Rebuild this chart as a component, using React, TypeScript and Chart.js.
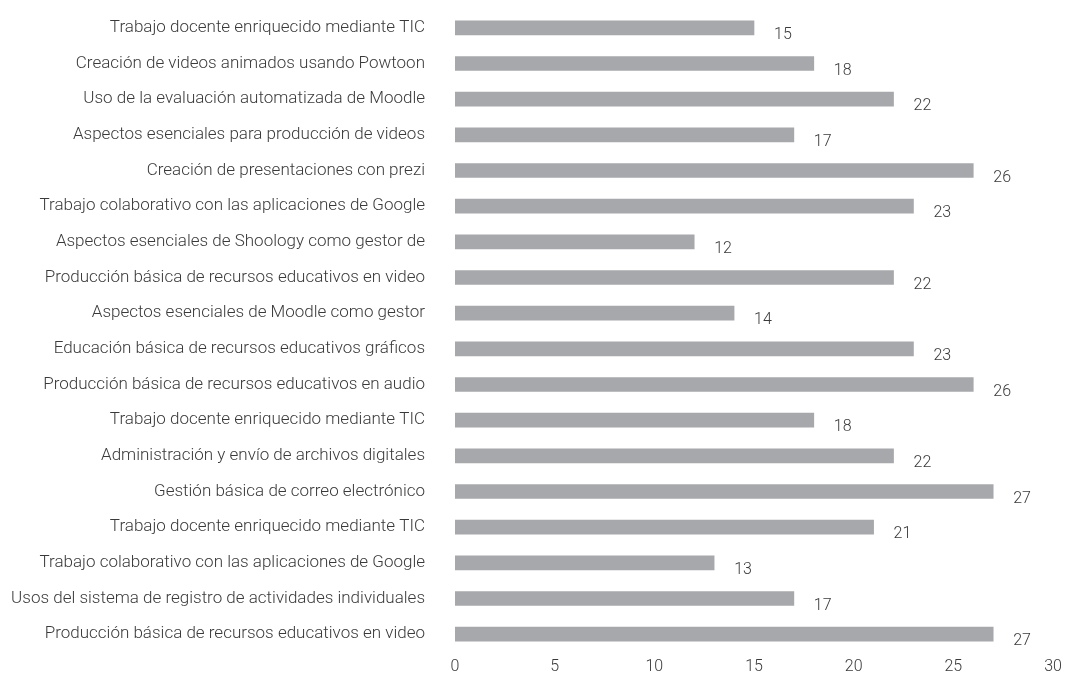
import React, { useEffect, useRef } from "react";
import { Chart, registerables } from "chart.js";

Chart.register(...registerables);

const categories = [
  "Trabajo docente enriquecido mediante TIC",
  "Creación de videos animados usando Powtoon",
  "Uso de la evaluación automatizada de Moodle",
  "Aspectos esenciales para producción de videos",
  "Creación de presentaciones con prezi",
  "Trabajo colaborativo con las aplicaciones de Google",
  "Aspectos esenciales de Shoology como gestor de",
  "Producción básica de recursos educativos en video",
  "Aspectos esenciales de Moodle como gestor",
  "Educación básica de recursos educativos gráficos",
  "Producción básica de recursos educativos en audio",
  "Trabajo docente enriquecido mediante TIC",
  "Administración y envío de archivos digitales",
  "Gestión básica de correo electrónico",
  "Trabajo docente enriquecido mediante TIC",
  "Trabajo colaborativo con las aplicaciones de Google",
  "Usos del sistema de registro de actividades individuales",
  "Producción básica de recursos educativos en video",
];

const values = [15, 18, 22, 17, 26, 23, 12, 22, 14, 23, 26, 18, 22, 27, 21, 13, 17, 27];

const xTicks = [0, 5, 10, 15, 20, 25, 30];

const FONT = "Roboto";
const TEXT = "#3a3a3a";
const BAR = "#a7a8ab";

const valueLabels = {
  id: "valueLabels",
  afterDatasetsDraw(chart: any) {
    const ctx = chart.ctx;
    const meta = chart.getDatasetMeta(0);
    ctx.save();
    ctx.font = `300 16px ${FONT}`;
    ctx.fillStyle = TEXT;
    ctx.textAlign = "left";
    ctx.textBaseline = "middle";
    meta.data.forEach((el: any, i: number) => {
      ctx.fillText(String(values[i]), el.x + 20, el.y + 7);
    });
    ctx.restore();
  },
};

export default function App() {
  const ref = useRef<HTMLCanvasElement>(null);
  useEffect(() => {
    if (!ref.current) return;
    const chart = new Chart(ref.current, {
      type: "bar",
      data: {
        labels: categories,
        datasets: [
          {
            data: values,
            backgroundColor: BAR,
            borderWidth: 0,
            barThickness: 14,
          },
        ],
      },
      options: {
        indexAxis: "y",
        animation: false,
        responsive: false,
        maintainAspectRatio: false,
        layout: { padding: { top: 10, right: 15, left: 0, bottom: 0 } },
        plugins: { legend: { display: false }, tooltip: { enabled: false } },
        scales: {
          x: {
            min: 0,
            max: 30,
            afterBuildTicks: (s: any) => {
              s.ticks = xTicks.map((v) => ({ value: v }));
            },
            afterFit: (s: any) => {
              s.height = 34;
              s.paddingLeft = 0;
              s.paddingRight = 0;
            },
            grid: { display: false, drawTicks: false },
            border: { display: false },
            ticks: {
              color: TEXT,
              font: { family: FONT, size: 16, weight: 300 },
              padding: 5,
            },
          },
          y: {
            afterFit: (s: any) => {
              s.width = 455;
              s.paddingTop = 0;
              s.paddingBottom = 0;
            },
            grid: { display: false, drawTicks: false },
            border: { display: false },
            ticks: {
              color: TEXT,
              font: { family: FONT, size: 17, weight: 300 },
              padding: 30,
              autoSkip: false,
            },
          },
        },
      },
      plugins: [valueLabels],
    });
    return () => chart.destroy();
  }, []);
  return (
    <div style={{ position: "fixed", left: 0, top: 0, width: 1068, height: 686, background: "#fff" }}>
      <canvas ref={ref} width={1068} height={686} style={{ width: 1068, height: 686 }} />
    </div>
  );
}
